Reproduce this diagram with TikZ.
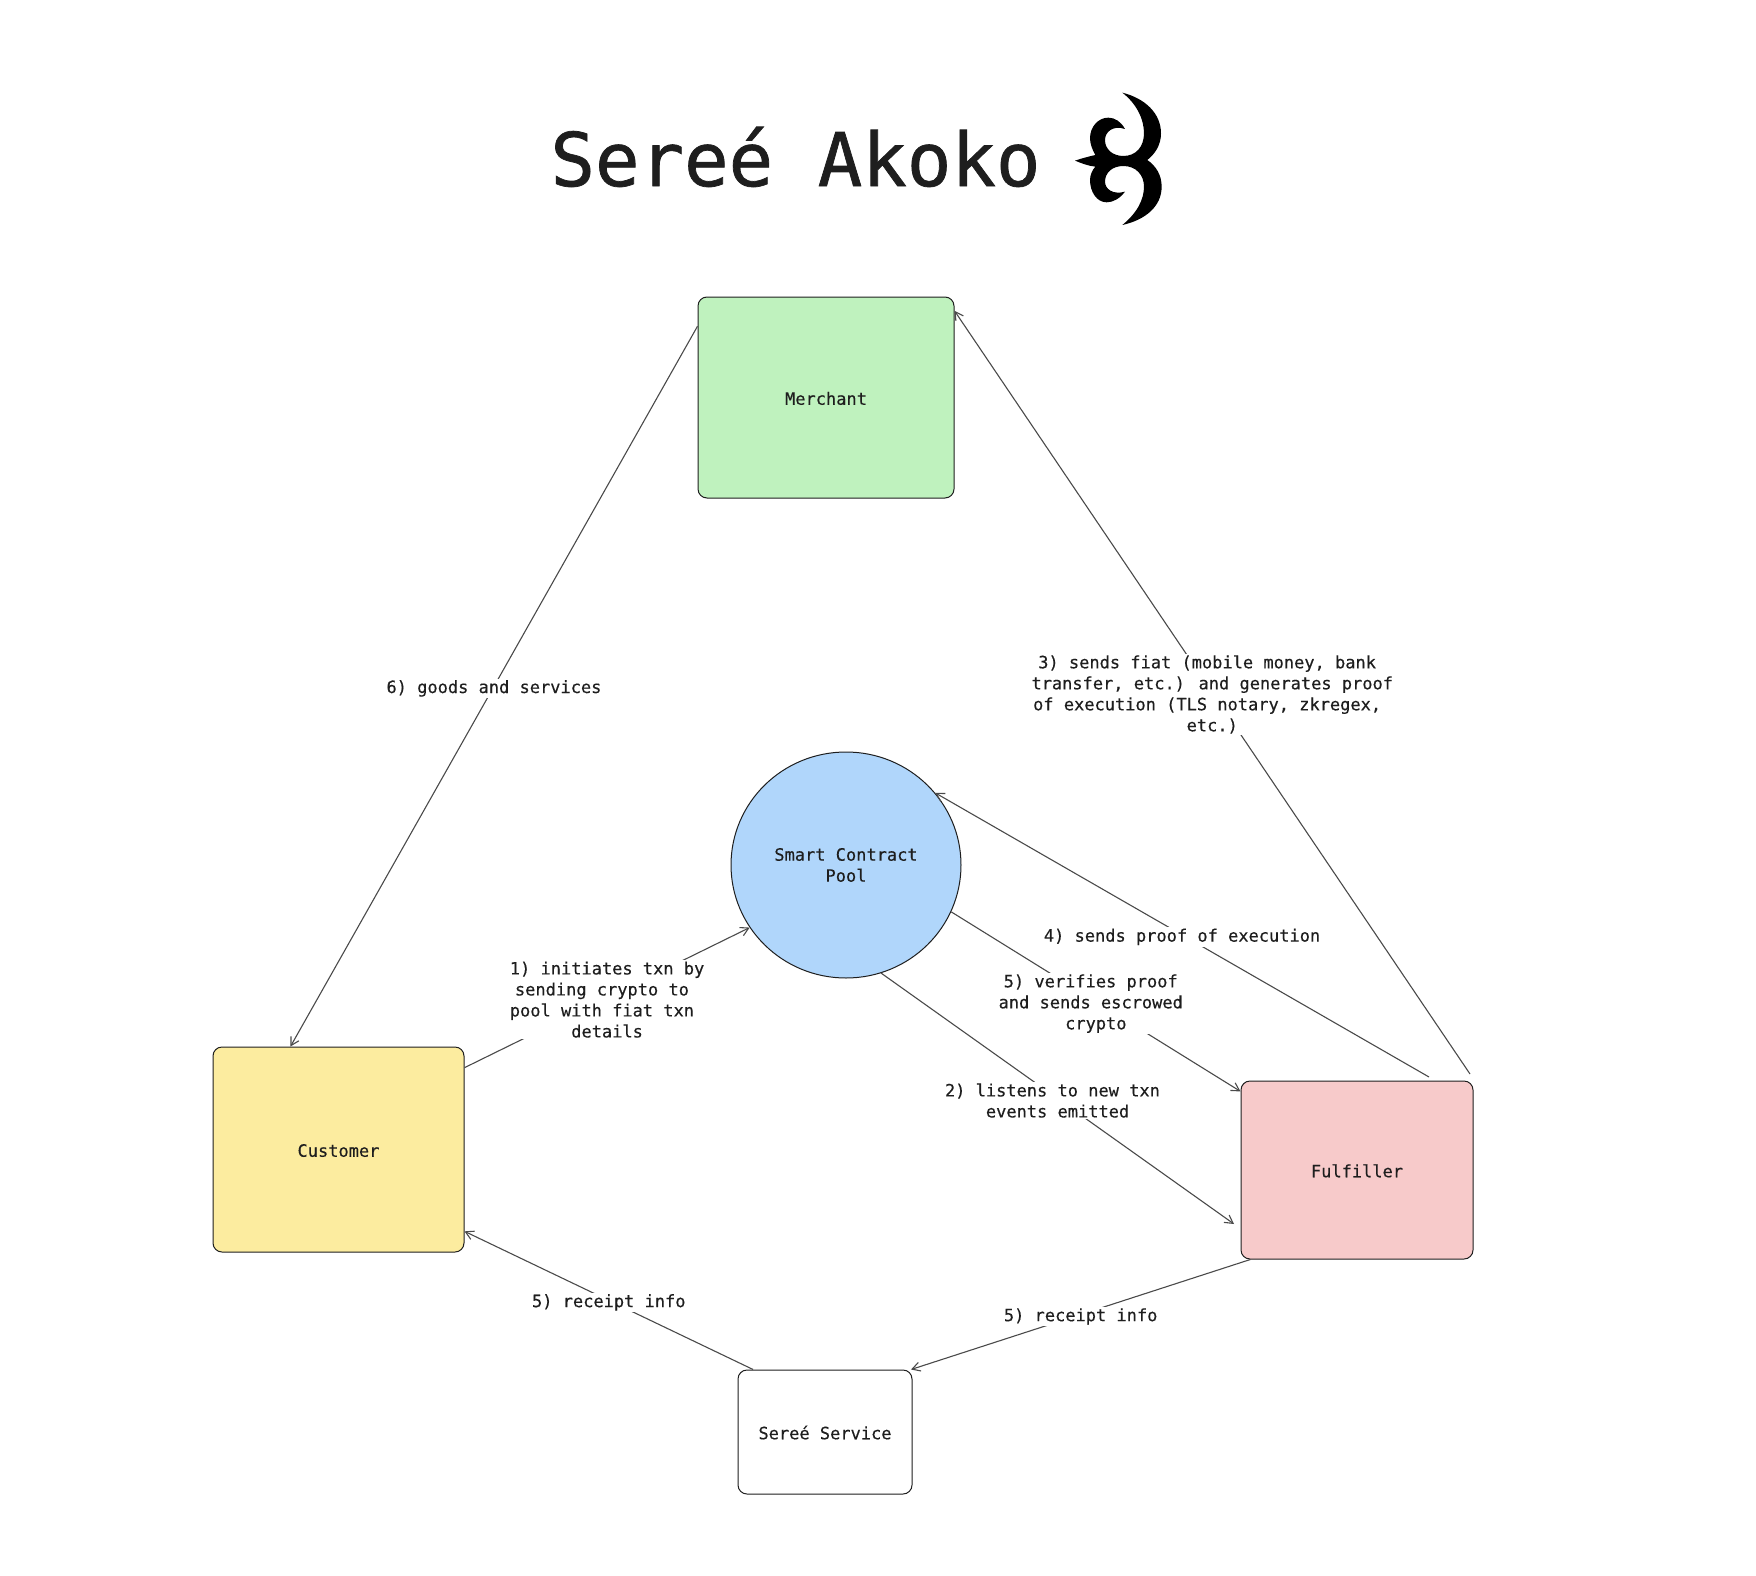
\documentclass[tikz,border=0pt]{standalone}
\usepackage{fontspec}
\setmainfont[FakeBold=0.3]{DejaVu Sans Mono}
\newfontfamily\titlefont[FakeBold=1]{DejaVu Sans Mono}
\usetikzlibrary{arrows.meta,shapes.geometric}
\definecolor{inkgrey}{HTML}{1E1E1E}
\definecolor{flowgrey}{HTML}{4A4A4A}
\definecolor{merchantgreen}{HTML}{BFF2BE}
\definecolor{customeryellow}{HTML}{FCEC9F}
\definecolor{fulfillerpink}{HTML}{F7CACA}
\definecolor{poolblue}{HTML}{B0D6FB}
\newcommand{\wrapgap}{~\mbox{}} % wrapped lines keep their trailing space
\tikzset{
    partybox/.style={draw=inkgrey, line width=1pt, rounded corners=9pt, inner sep=0pt, text height=14.5pt, text depth=0pt,
        text=inkgrey, font=\fontsize{17}{21}\selectfont},
    poolcircle/.style={draw=inkgrey, line width=1pt, ellipse, inner sep=0pt, minimum width=230pt, minimum height=226pt,
        fill=poolblue, text=inkgrey, align=center, font=\fontsize{17}{21}\selectfont},
    flow/.style={draw=flowgrey, line width=1.1pt, -{Straight Barb[length=8pt,width=9pt]}},
    flowtext/.style={midway, yshift=-2pt, fill=white, inner sep=1.5pt, text=inkgrey, align=center,
        font=\fontsize{17}{21}\selectfont},
}

\begin{document}
\begin{tikzpicture}[x=1pt,y=-1pt]
    \useasboundingbox (0,0) rectangle (1756,1576);

    \node[anchor=base, inner sep=0pt, text=inkgrey, font=\titlefont\fontsize{74}{74}\selectfont] (title) at (795.5,186) {Sereé Akoko};
    % logo, traced at three times its size
    \begin{scope}[shift={(1060,80)}, x=.3333pt, y=-.3333pt]
        \fill[black] (187,38) .. controls (255,55) and (303,100) .. (303,160)
            .. controls (303,195) and (285,222) .. (262,240)
            .. controls (288,258) and (305,285) .. (305,320)
            .. controls (305,380) and (255,420) .. (187,435)
            .. controls (230,400) and (252,360) .. (252,320)
            .. controls (252,285) and (228,258) .. (190,258)
            .. controls (155,258) and (135,280) .. (135,305)
            .. controls (135,328) and (160,345) .. (195,335)
            .. controls (180,355) and (160,367) .. (140,367)
            .. controls (110,367) and (90,335) .. (90,300)
            .. controls (90,285) and (97,270) .. (106,260)
            .. controls (85,258) and (65,250) .. (45,242)
            .. controls (65,235) and (85,230) .. (106,225)
            .. controls (97,210) and (90,190) .. (90,175)
            .. controls (90,140) and (115,113) .. (145,113)
            .. controls (165,113) and (183,125) .. (195,147)
            .. controls (160,135) and (135,155) .. (135,180)
            .. controls (135,208) and (158,228) .. (190,228)
            .. controls (228,228) and (252,200) .. (252,160)
            .. controls (252,115) and (228,70) .. (187,38) -- cycle;
    \end{scope}

    \node[partybox, fill=merchantgreen, minimum width=256pt, minimum height=201pt] (merchant) at (826,397.5) {Merchant};
    \node[partybox, fill=customeryellow, minimum width=251pt, minimum height=205pt] (customer) at (338.5,1149.5) {Customer};
    \node[partybox, fill=fulfillerpink, minimum width=232pt, minimum height=178pt] (fulfiller) at (1357,1170) {Fulfiller};
    \node[partybox, fill=white, minimum width=174pt, minimum height=124pt] (service) at (825,1432) {Sereé Service};
    \node[poolcircle] (pool) at (846,865) {Smart Contract\\Pool};

    \coordinate (fiatstart) at (1470,1074); % these three stop short of the box
    \coordinate (proofstart) at (1429,1077);
    \coordinate (listenend) at (1234,1224);

    \draw[flow] (merchant.151) -- node[flowtext] (goods) {6) goods and services} (customer.115.6);
    \draw[flow] (fiatstart) -- node[flowtext] (fiat) {3) sends fiat (mobile money, bank\wrapgap\\transfer, etc.) and generates proof\\of execution (TLS notary, zkregex,\wrapgap\\etc.)} (merchant.34.5);
    \draw[flow] (proofstart) -- node[flowtext] (proof) {4) sends proof of execution} (pool.39);
    \draw[flow] (pool.-24) -- node[flowtext] (verify) {5) verifies proof\wrapgap\\and sends escrowed\wrapgap\\crypto} (fulfiller.146.4);
    \draw[flow] (pool.-72) -- node[flowtext] (listen) {2) listens to new txn\wrapgap\\events emitted} (listenend);
    \draw[flow] (customer.33.6) -- node[flowtext] (initiate) {1) initiates txn by\\sending crypto to\wrapgap\\pool with fiat txn\wrapgap\\details} (pool.213.8);
    \draw[flow] (service.139.4) -- node[flowtext] (receiptc) {5) receipt info} (customer.-33.3);
    \draw[flow] (fulfiller.220.3) -- node[flowtext] (receiptf) {5) receipt info} (service.36.5);
\end{tikzpicture}
\end{document}
